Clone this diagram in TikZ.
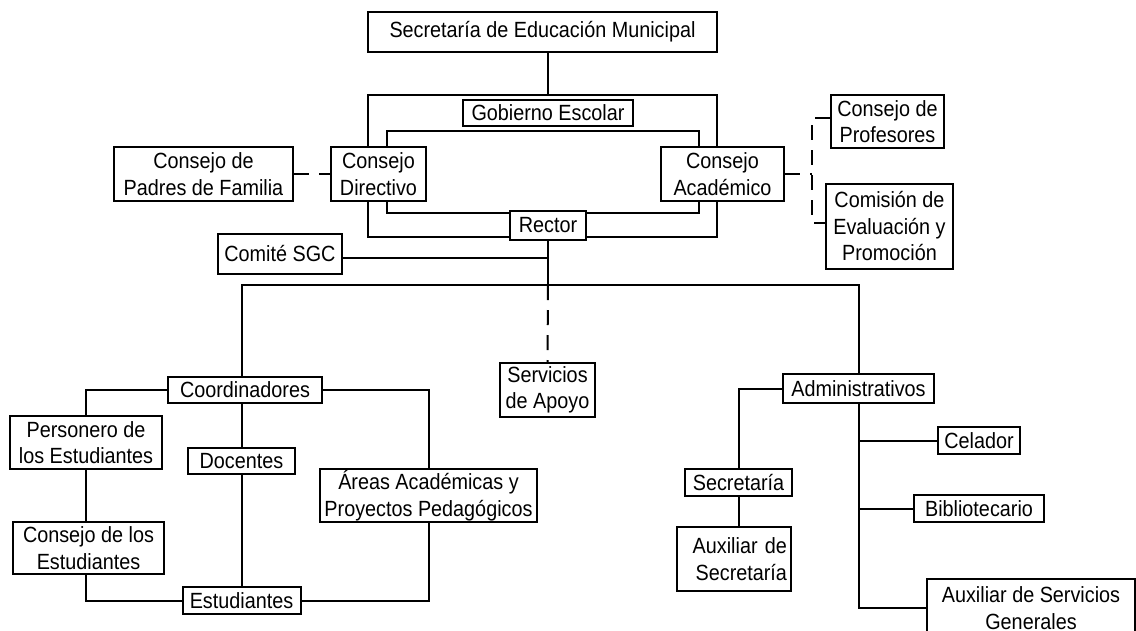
\documentclass[tikz,border=0pt]{standalone}
\usepackage{fontspec}
\setmainfont{Liberation Sans}[FakeStretch=0.9]
\usetikzlibrary{backgrounds}
\begin{document}
\begin{tikzpicture}[x=1pt,y=-1pt,
  box/.style={draw=black, line width=2pt, fill=white, inner sep=0pt, align=center,
    font=\fontsize{22}{26.5}\selectfont},
  frame/.style={draw=black, line width=2pt, inner sep=0pt},
  conn/.style={draw=black, line width=2pt},
  dconn/.style={conn, dash pattern=on 15pt off 10pt},
]
\useasboundingbox (0,0) rectangle (1136,630);
% frames
\node[frame, minimum width=349pt, minimum height=142pt] (gobframe) at (542.5,166) {};
\node[frame, minimum width=312pt, minimum height=82pt] (consejoframe) at (543,172) {};
% boxes
\node[box, minimum width=349pt, minimum height=40pt] (sem) at (542.5,32) {Secretaría de Educación Municipal};
\node[box, minimum width=170pt, minimum height=26pt] (gobierno) at (548,113) {Gobierno Escolar};
\node[box, minimum width=95pt, minimum height=54pt] (directivo) at (378.5,174) {Consejo\\Directivo};
\node[box, minimum width=123pt, minimum height=54pt] (academico) at (722.5,174) {Consejo\\Académico};
\node[box, minimum width=179pt, minimum height=54pt] (padres) at (203.5,174) {Consejo de\\Padres de Familia};
\node[box, minimum width=76pt, minimum height=29pt] (rector) at (548,225.5) {Rector};
\node[box, minimum width=124pt, minimum height=40pt] (comite) at (280,254) {Comité SGC};
\node[box, minimum width=113pt, minimum height=53pt] (profesores) at (887.5,121.5) {Consejo de\\Profesores};
\node[box, minimum width=127pt, minimum height=85pt] (comision) at (889.5,226.5) {Comisión de\\Evaluación y\\Promoción};
\node[box, minimum width=154pt, minimum height=26pt] (coord) at (245,390) {Coordinadores};
\node[box, minimum width=107pt, minimum height=26pt] (docentes) at (241.5,461) {Docentes};
\node[box, minimum width=118pt, minimum height=27pt] (estudiantes) at (241.5,600.5) {Estudiantes};
\node[box, minimum width=152pt, minimum height=53pt] (personero) at (86,442.5) {Personero de\\los Estudiantes};
\node[box, minimum width=151pt, minimum height=52pt] (consejoest) at (88.5,548) {Consejo de los\\Estudiantes};
\node[box, minimum width=217pt, minimum height=53pt] (areas) at (428.5,495.5) {Áreas Académicas y\\Proyectos Pedagógicos};
\node[box, minimum width=95pt, minimum height=54pt] (servicios) at (547.5,390) {Servicios\\de Apoyo};
\node[box, minimum width=151pt, minimum height=29pt] (admin) at (858.5,388.5) {Administrativos};
\node[box, minimum width=107pt, minimum height=27pt] (secretaria) at (738.5,482.5) {Secretaría};
\node[box, minimum width=114pt, minimum height=64pt, align=right, text width=106pt] (auxsec) at (734,559) {Auxiliar de\\Secretaría};
\node[box, minimum width=82pt, minimum height=27pt] (celador) at (979,440.5) {Celador};
\node[box, minimum width=130pt, minimum height=27pt] (biblio) at (979,508.5) {Bibliotecario};
\node[box, minimum width=208pt, minimum height=58pt] (auxsg) at (1031,608) {Auxiliar de Servicios\\Generales};
% connectors
\begin{scope}[on background layer]
\fill[white] (0,0) rectangle (1136,630);
\coordinate (dv) at (812,174);
\coordinate (busM) at (548,285);
\draw[conn] (sem.south -| rector) -- (gobframe.north -| rector);
\draw[dconn] (padres.east) -- (directivo.west);
\draw[dconn] (academico.east) -- (dv);
\draw[dconn] ([yshift=3.5pt]profesores.west) -| (dv) |- ([yshift=3.5pt]comision.west);
\draw[conn] (rector.south) -- (busM);
\draw[conn] ([yshift=-4pt]comite.east) -- ([yshift=-4pt]comite.east -| busM);
\draw[conn] (coord.north -| docentes) |- (busM) -| (admin.north);
\draw[dconn] (busM) -- (servicios.north);
\draw[conn] (coord.west) -| (personero.north);
\draw[conn] (personero.south) -- (personero.south |- consejoest.north);
\draw[conn] (consejoest.south -| personero) |- (estudiantes.west);
\draw[conn] (coord.south -| docentes) -- (docentes.north);
\draw[conn] (docentes.south) -- (estudiantes.north);
\draw[conn] (coord.east) -| (areas.north);
\draw[conn] (areas.south) |- (estudiantes.east);
\draw[conn] (admin.west) -| (secretaria.north);
\draw[conn] (secretaria.south) -- (secretaria.south |- auxsec.north);
\draw[conn] (admin.south) |- (auxsg.west);
\draw[conn] (celador.west -| admin) -- (celador.west);
\draw[conn] (biblio.west -| admin) -- (biblio.west);
\end{scope}
\end{tikzpicture}
\end{document}
